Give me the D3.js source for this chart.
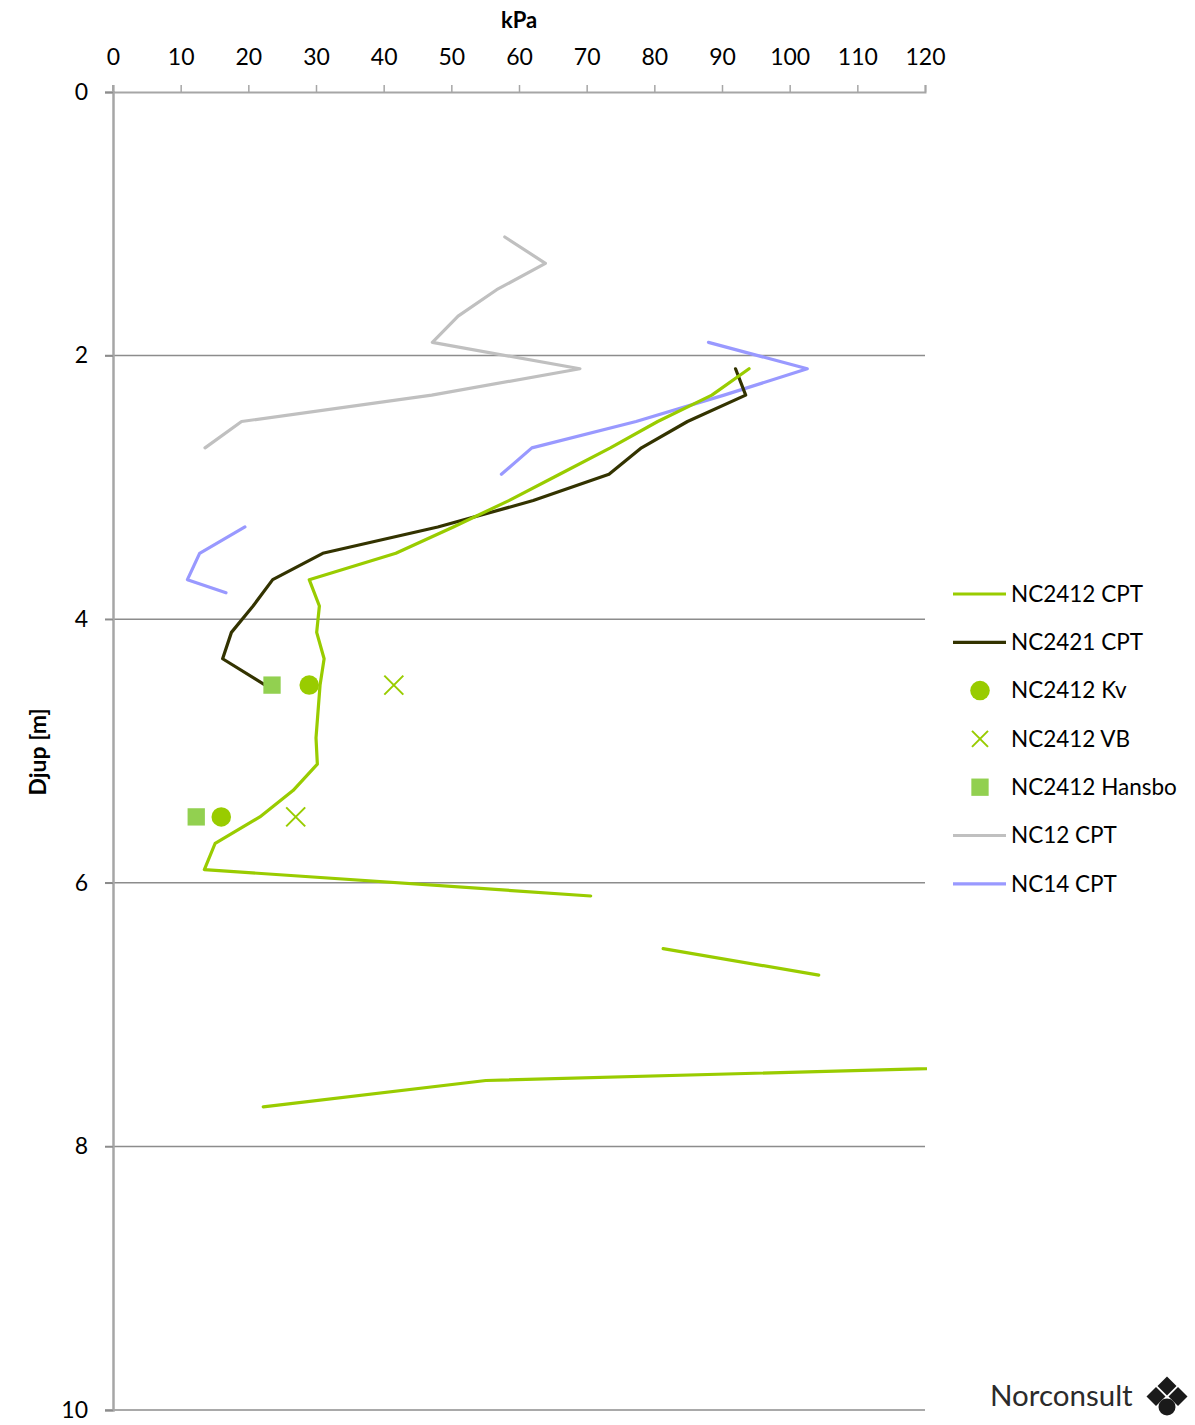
<!DOCTYPE html>
<html>
<head>
<meta charset="utf-8">
<script src="https://cdn.jsdelivr.net/npm/d3@7"></script>
<style>
  html, body { margin: 0; padding: 0; background: #fff; }
  svg { display: block; }
  text { font-family: Lato, "Open Sans", sans-serif; fill: #000; }
</style>
</head>
<body>
<svg id="chart" width="1195" height="1425"></svg>
<script>
// Shear strength profiles (kPa) versus depth (m)
const xTicks = [0, 10, 20, 30, 40, 50, 60, 70, 80, 90, 100, 110, 120];
const yTicks = [0, 2, 4, 6, 8, 10];

// NC2412 CPT (null = gap in the profile)
const nc2412Depth = [2.1, 2.3, 2.5, 2.7, 2.9, 3.1, 3.3, 3.5, 3.7, 3.9, 4.1, 4.3, 4.5, 4.7, 4.9, 5.1, 5.3, 5.5, 5.7, 5.9, 6.1, 6.3, 6.5, 6.7, 6.9, 7.1, 7.3, 7.5, 7.7];
const nc2412Value = [94.0, 88.5, 80.5, 73.5, 66.0, 58.5, 50.3, 41.8, 29.0, 30.5, 30.1, 31.2, 30.6, 30.3, 30.0, 30.2, 26.6, 21.7, 15.1, 13.5, 70.6, null, 81.3, 104.3, null, null, 200, 55.1, 22.2];

// NC2421 CPT
const nc2421Depth = [2.1, 2.3, 2.5, 2.7, 2.9, 3.1, 3.3, 3.5, 3.7, 3.9, 4.1, 4.3, 4.5];
const nc2421Value = [92.0, 93.5, 84.9, 78.1, 73.3, 62.1, 48.0, 31.0, 23.6, 20.7, 17.5, 16.2, 22.5];

// NC12 CPT
const nc12Depth = [1.1, 1.3, 1.5, 1.7, 1.9, 2.1, 2.3, 2.5, 2.7];
const nc12Value = [57.9, 63.9, 56.7, 51.0, 47.2, 69.0, 47.1, 19.0, 13.6];

// NC14 CPT
const nc14Depth = [1.9, 2.1, 2.3, 2.5, 2.7, 2.9, 3.1, 3.3, 3.5, 3.7, 3.8];
const nc14Value = [88.0, 102.6, 90.3, 77.3, 61.9, 57.4, null, 19.5, 12.8, 11.0, 16.7];

// Laboratory / field point results for NC2412
const kvDepth = [4.5, 5.5];
const kvValue = [29.0, 16.0];
const vbDepth = [4.5, 5.5];
const vbValue = [41.5, 27.0];
const hansboDepth = [4.5, 5.5];
const hansboValue = [23.5, 12.3];

const legendLabels = ["NC2412 CPT", "NC2421 CPT", "NC2412 Kv", "NC2412 VB", "NC2412 Hansbo", "NC12 CPT", "NC14 CPT"];

const svg = d3.select("#chart");
const x = d3.scaleLinear().domain([0, 120]).range([113, 925]);
const y = d3.scaleLinear().domain([0, 10]).range([92, 1410]);

const GREEN = "#99cc00", DARK = "#333300", LIGHTGREEN = "#92d050", GREY = "#c0c0c0", BLUE = "#9999ff";

svg.append("defs").append("clipPath").attr("id", "plot-clip")
  .append("rect").attr("x", x(0)).attr("y", y(0)).attr("width", x(120) - x(0) + 2).attr("height", y(10) - y(0));

// Horizontal gridlines
svg.append("g").selectAll("line").data(yTicks.filter(d => d > 0)).join("line")
  .attr("x1", x(0) - 8).attr("x2", x(120))
  .attr("y1", d => y(d)).attr("y2", d => y(d))
  .attr("stroke", "#8c8c8c").attr("stroke-width", 1.5);

// Top axis (kPa)
const xAxis = d3.axisTop(x).tickValues(xTicks).tickSize(7).tickPadding(20).tickFormat(d3.format("d"));
const gx = svg.append("g").attr("transform", `translate(0,${y(0)})`).call(xAxis);
gx.select(".domain").attr("stroke", "#a6a6a6").attr("stroke-width", 2);
gx.selectAll(".tick line").attr("stroke", "#a6a6a6").attr("stroke-width", 1.5);
gx.selectAll(".tick text").attr("font-size", 23).attr("font-family", "Lato, sans-serif").attr("fill", "#000");

// Left axis (depth)
const yAxis = d3.axisLeft(y).tickValues(yTicks).tickSize(8).tickPadding(17).tickFormat(d3.format("d"));
const gy = svg.append("g").attr("transform", `translate(${x(0)},0)`).call(yAxis);
gy.select(".domain").attr("stroke", "#a6a6a6").attr("stroke-width", 2.5);
gy.selectAll(".tick line").attr("stroke", "#8c8c8c").attr("stroke-width", 1.5);
gy.selectAll(".tick text").attr("font-size", 23).attr("font-family", "Lato, sans-serif").attr("fill", "#000");
// small overshoot of the depth axis above the top axis
svg.append("line").attr("x1", x(0)).attr("x2", x(0)).attr("y1", y(0) - 7).attr("y2", y(0))
  .attr("stroke", "#a6a6a6").attr("stroke-width", 2);

// Axis titles
svg.append("text").attr("x", 519).attr("y", 28).attr("text-anchor", "middle")
  .attr("font-size", 22).attr("font-weight", "bold").text("kPa");
svg.append("text").attr("transform", `translate(46,${(y(0) + y(10)) / 2 + 1}) rotate(-90)`)
  .attr("text-anchor", "middle").attr("font-size", 23).attr("font-weight", "bold").text("Djup [m]");

// Profiles
const plot = svg.append("g").attr("clip-path", "url(#plot-clip)");
const line = d3.line().defined(d => d.v != null).x(d => x(d.v)).y(d => y(d.d));
const zipSeries = (depths, values) => depths.map((d, i) => ({ d, v: values[i] }));

const profiles = [
  { depth: nc12Depth, value: nc12Value, color: GREY },
  { depth: nc14Depth, value: nc14Value, color: BLUE },
  { depth: nc2421Depth, value: nc2421Value, color: DARK },
  { depth: nc2412Depth, value: nc2412Value, color: GREEN }
];
profiles.forEach(p => {
  plot.append("path").datum(zipSeries(p.depth, p.value))
    .attr("d", line).attr("fill", "none").attr("stroke", p.color)
    .attr("stroke-width", 3.2).attr("stroke-linejoin", "round").attr("stroke-linecap", "round");
});

// Point results
const symSquare = d3.symbol().type(d3.symbolSquare).size(300);
const symCircle = d3.symbol().type(d3.symbolCircle).size(300);
const crossPath = s => `M${-s},${-s}L${s},${s}M${-s},${s}L${s},${-s}`;

plot.selectAll(".hansbo").data(zipSeries(hansboDepth, hansboValue)).join("path")
  .attr("transform", d => `translate(${x(d.v)},${y(d.d)})`).attr("d", symSquare).attr("fill", LIGHTGREEN);
plot.selectAll(".kv").data(zipSeries(kvDepth, kvValue)).join("path")
  .attr("transform", d => `translate(${x(d.v)},${y(d.d)})`).attr("d", symCircle).attr("fill", GREEN);
plot.selectAll(".vb").data(zipSeries(vbDepth, vbValue)).join("path")
  .attr("transform", d => `translate(${x(d.v)},${y(d.d)})`).attr("d", crossPath(9.5))
  .attr("fill", "none").attr("stroke", GREEN).attr("stroke-width", 2);

// Legend
const legendKinds = ["line", "line", "circle", "cross", "square", "line", "line"];
const legendColors = [GREEN, DARK, GREEN, GREEN, LIGHTGREEN, GREY, BLUE];
const legend = svg.append("g");
legendLabels.forEach((lab, i) => {
  const ly = 594 + i * 48.3;
  const g = legend.append("g").attr("transform", `translate(0,${ly})`);
  if (legendKinds[i] === "line") {
    g.append("line").attr("x1", 953).attr("x2", 1006).attr("y1", 0).attr("y2", 0)
      .attr("stroke", legendColors[i]).attr("stroke-width", 3.2);
  } else if (legendKinds[i] === "circle") {
    g.append("path").attr("transform", "translate(980,0)").attr("d", symCircle).attr("fill", legendColors[i]);
  } else if (legendKinds[i] === "cross") {
    g.append("path").attr("transform", "translate(980,0)").attr("d", crossPath(8))
      .attr("fill", "none").attr("stroke", legendColors[i]).attr("stroke-width", 2);
  } else {
    g.append("path").attr("transform", "translate(980,0)").attr("d", symSquare).attr("fill", legendColors[i]);
  }
  g.append("text").attr("x", 1011).attr("y", 0).attr("dy", "0.35em").attr("font-size", 22.5).text(lab);
});

// Company mark
const logo = svg.append("g");
logo.append("text").attr("x", 990).attr("y", 1406).attr("font-size", 29.5)
  .attr("font-family", "Lato, sans-serif").style("fill", "#2b2b2b").text("Norconsult");
const diamond = (cx, cy, r) => `M${cx},${cy - r}L${cx + r},${cy}L${cx},${cy + r}L${cx - r},${cy}Z`;
logo.append("path").attr("d", diamond(1167, 1386, 9.5)).attr("fill", "#1a1a1a");
logo.append("path").attr("d", diamond(1156, 1396.5, 9.5)).attr("fill", "#1a1a1a");
logo.append("path").attr("d", diamond(1178, 1396.5, 9.5)).attr("fill", "#1a1a1a");
logo.append("circle").attr("cx", 1167).attr("cy", 1407).attr("r", 8.5).attr("fill", "#1a1a1a");
</script>
</body>
</html>
